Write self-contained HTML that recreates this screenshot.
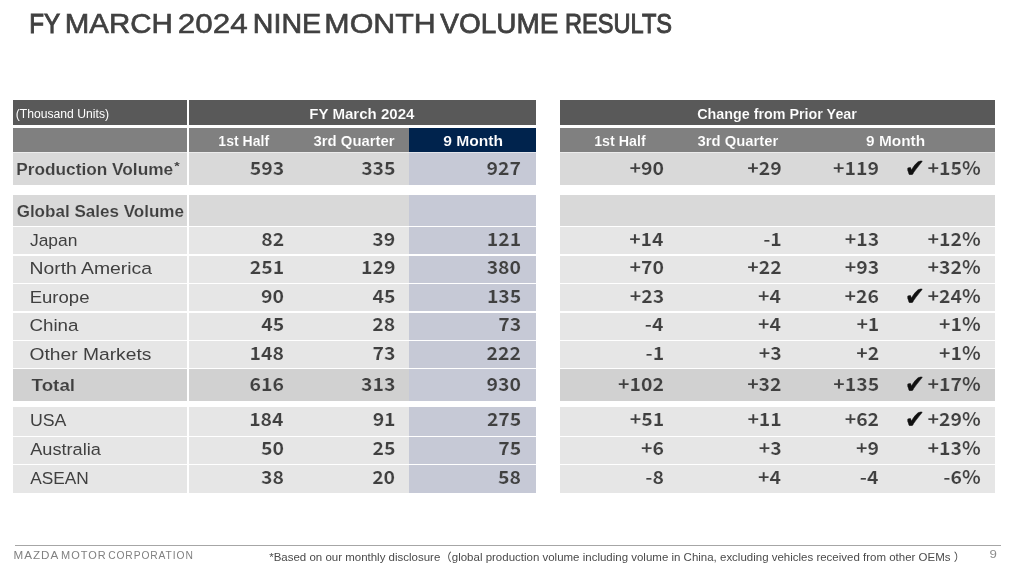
<!DOCTYPE html>
<html lang="en"><head><meta charset="utf-8"><title>FY March 2024 Nine Month Volume Results</title>
<style>
html,body{margin:0;padding:0;background:#fff}
body{width:1024px;height:568px;position:relative;overflow:hidden;font-family:"Liberation Sans","DejaVu Sans",sans-serif;color:#404040}
.b{position:absolute}
.t{position:absolute;white-space:nowrap;line-height:1;transform-origin:0 0}
</style></head><body>
<div class="b" style="left:13px;top:100px;width:174px;height:24.8px;background:#595959"></div><div class="b" style="left:189px;top:100px;width:347px;height:24.8px;background:#595959"></div><div class="b" style="left:560px;top:100px;width:435px;height:24.8px;background:#595959"></div><div class="b" style="left:13px;top:127.7px;width:174px;height:24.3px;background:#808080"></div><div class="b" style="left:189px;top:127.7px;width:219.75px;height:24.3px;background:#808080"></div><div class="b" style="left:408.75px;top:127.7px;width:127.25px;height:24.3px;background:#00234d"></div><div class="b" style="left:560px;top:127.7px;width:435px;height:24.3px;background:#808080"></div><div class="b" style="left:13px;top:152px;width:174px;height:1.3px;background:#ececec"></div><div class="b" style="left:189px;top:152px;width:219.75px;height:1.3px;background:#ececec"></div><div class="b" style="left:408.75px;top:152px;width:127.25px;height:1.3px;background:#e2e4ea"></div><div class="b" style="left:560px;top:152px;width:435px;height:1.3px;background:#ececec"></div>
<div class="b" style="left:13px;top:153.3px;width:174px;height:31.5px;background:#d9d9d9"></div><div class="b" style="left:189px;top:153.3px;width:219.75px;height:31.5px;background:#d9d9d9"></div><div class="b" style="left:408.75px;top:153.3px;width:127.25px;height:31.5px;background:#c6c9d6"></div><div class="b" style="left:560px;top:153.3px;width:435px;height:31.5px;background:#d9d9d9"></div>
<div class="b" style="left:13px;top:195px;width:174px;height:30.8px;background:#d9d9d9"></div><div class="b" style="left:189px;top:195px;width:219.75px;height:30.8px;background:#d9d9d9"></div><div class="b" style="left:408.75px;top:195px;width:127.25px;height:30.8px;background:#c6c9d6"></div><div class="b" style="left:560px;top:195px;width:435px;height:30.8px;background:#d9d9d9"></div>
<div class="b" style="left:13px;top:227.3px;width:174px;height:26.95px;background:#e6e6e6"></div><div class="b" style="left:189px;top:227.3px;width:219.75px;height:26.95px;background:#e6e6e6"></div><div class="b" style="left:408.75px;top:227.3px;width:127.25px;height:26.95px;background:#c6c9d6"></div><div class="b" style="left:560px;top:227.3px;width:435px;height:26.95px;background:#e6e6e6"></div>
<div class="b" style="left:13px;top:255.75px;width:174px;height:26.9px;background:#e6e6e6"></div><div class="b" style="left:189px;top:255.75px;width:219.75px;height:26.9px;background:#e6e6e6"></div><div class="b" style="left:408.75px;top:255.75px;width:127.25px;height:26.9px;background:#c6c9d6"></div><div class="b" style="left:560px;top:255.75px;width:435px;height:26.9px;background:#e6e6e6"></div>
<div class="b" style="left:13px;top:284.15px;width:174px;height:26.95px;background:#e6e6e6"></div><div class="b" style="left:189px;top:284.15px;width:219.75px;height:26.95px;background:#e6e6e6"></div><div class="b" style="left:408.75px;top:284.15px;width:127.25px;height:26.95px;background:#c6c9d6"></div><div class="b" style="left:560px;top:284.15px;width:435px;height:26.95px;background:#e6e6e6"></div>
<div class="b" style="left:13px;top:312.6px;width:174px;height:26.95px;background:#e6e6e6"></div><div class="b" style="left:189px;top:312.6px;width:219.75px;height:26.95px;background:#e6e6e6"></div><div class="b" style="left:408.75px;top:312.6px;width:127.25px;height:26.95px;background:#c6c9d6"></div><div class="b" style="left:560px;top:312.6px;width:435px;height:26.95px;background:#e6e6e6"></div>
<div class="b" style="left:13px;top:341.05px;width:174px;height:26.95px;background:#e6e6e6"></div><div class="b" style="left:189px;top:341.05px;width:219.75px;height:26.95px;background:#e6e6e6"></div><div class="b" style="left:408.75px;top:341.05px;width:127.25px;height:26.95px;background:#c6c9d6"></div><div class="b" style="left:560px;top:341.05px;width:435px;height:26.95px;background:#e6e6e6"></div>
<div class="b" style="left:13px;top:369.4px;width:174px;height:31.2px;background:#d1d1d1"></div><div class="b" style="left:189px;top:369.4px;width:219.75px;height:31.2px;background:#d1d1d1"></div><div class="b" style="left:408.75px;top:369.4px;width:127.25px;height:31.2px;background:#c6c9d6"></div><div class="b" style="left:560px;top:369.4px;width:435px;height:31.2px;background:#d1d1d1"></div>
<div class="b" style="left:13px;top:407px;width:174px;height:28.5px;background:#e6e6e6"></div><div class="b" style="left:189px;top:407px;width:219.75px;height:28.5px;background:#e6e6e6"></div><div class="b" style="left:408.75px;top:407px;width:127.25px;height:28.5px;background:#c6c9d6"></div><div class="b" style="left:560px;top:407px;width:435px;height:28.5px;background:#e6e6e6"></div>
<div class="b" style="left:13px;top:437px;width:174px;height:26.9px;background:#e6e6e6"></div><div class="b" style="left:189px;top:437px;width:219.75px;height:26.9px;background:#e6e6e6"></div><div class="b" style="left:408.75px;top:437px;width:127.25px;height:26.9px;background:#c6c9d6"></div><div class="b" style="left:560px;top:437px;width:435px;height:26.9px;background:#e6e6e6"></div>
<div class="b" style="left:13px;top:465.4px;width:174px;height:27.6px;background:#e6e6e6"></div><div class="b" style="left:189px;top:465.4px;width:219.75px;height:27.6px;background:#e6e6e6"></div><div class="b" style="left:408.75px;top:465.4px;width:127.25px;height:27.6px;background:#c6c9d6"></div><div class="b" style="left:560px;top:465.4px;width:435px;height:27.6px;background:#e6e6e6"></div>
<div class="b" style="left:14.5px;top:544.7px;width:986.5px;height:1.3px;background:#a6a6a6"></div>
<span class="t" id="tw_FY" style="left:29px;top:10px;font-size:27.4px;-webkit-text-stroke:1.00px #404040;transform:translate(0.33px,0.00px) scaleX(0.8821);">FY</span>
<span class="t" id="tw_MARCH" style="left:64px;top:10px;font-size:27.4px;-webkit-text-stroke:0.65px #404040;transform:translate(0.72px,0.00px) scaleX(1.0756);">MARCH</span>
<span class="t" id="tw_2024" style="left:177px;top:10px;font-size:27.4px;-webkit-text-stroke:0.53px #404040;transform:translate(0.81px,0.00px) scaleX(1.1475);">2024</span>
<span class="t" id="tw_NINE" style="left:252px;top:10px;font-size:27.4px;-webkit-text-stroke:0.71px #404040;transform:translate(0.82px,0.00px) scaleX(1.0434);">NINE</span>
<span class="t" id="tw_MONTH" style="left:324px;top:10px;font-size:27.4px;-webkit-text-stroke:0.59px #404040;transform:translate(0.34px,0.00px) scaleX(1.1098);">MONTH</span>
<span class="t" id="tw_VOLUME" style="left:440px;top:10px;font-size:27.4px;-webkit-text-stroke:0.76px #404040;transform:translate(0.37px,0.00px) scaleX(1.0199);">VOLUME</span>
<span class="t" id="tw_RESULTS" style="left:565px;top:10px;font-size:27.4px;-webkit-text-stroke:1.00px #404040;transform:translate(0.10px,0.00px) scaleX(0.8605);">RESULTS</span>
<span class="t" id="thu" style="left:15px;top:108px;font-size:12.5px;color:#fff;transform:translate(0.68px,0.00px) scaleX(0.9738);">(Thousand Units)</span>
<span class="t" id="h_fy" style="left:309px;top:107px;font-size:14.2px;font-weight:bold;color:#fff;-webkit-text-stroke:0.12px #595959;transform:translate(0.24px,0.00px) scaleX(1.0613);">FY March 2024</span>
<span class="t" id="h_ch" style="left:697px;top:107px;font-size:14.2px;font-weight:bold;color:#fff;-webkit-text-stroke:0.12px #595959;transform:translate(0.17px,0.00px) scaleX(1.0095);">Change from Prior Year</span>
<span class="t" id="h_l1" style="left:218px;top:134px;font-size:14.4px;font-weight:bold;color:#fff;-webkit-text-stroke:0.12px #808080;transform:translate(0.37px,0.00px) scaleX(0.9767);">1st Half</span>
<span class="t" id="h_l3" style="left:313px;top:134px;font-size:14.4px;font-weight:bold;color:#fff;-webkit-text-stroke:0.12px #808080;transform:translate(0.50px,0.00px) scaleX(1.0350);">3rd Quarter</span>
<span class="t" id="h_l9" style="left:443px;top:134px;font-size:14.4px;font-weight:bold;color:#fff;-webkit-text-stroke:0.12px #00234d;transform:translate(0.31px,0.00px) scaleX(1.0840);">9 Month</span>
<span class="t" id="h_r1" style="left:594px;top:134px;font-size:14.4px;font-weight:bold;color:#fff;-webkit-text-stroke:0.12px #808080;transform:translate(0.15px,0.00px) scaleX(0.9909);">1st Half</span>
<span class="t" id="h_r3" style="left:697px;top:134px;font-size:14.4px;font-weight:bold;color:#fff;-webkit-text-stroke:0.12px #808080;transform:translate(0.50px,0.00px) scaleX(1.0298);">3rd Quarter</span>
<span class="t" id="h_r9" style="left:866px;top:134px;font-size:14.4px;font-weight:bold;color:#fff;-webkit-text-stroke:0.12px #808080;transform:translate(0.08px,0.00px) scaleX(1.0704);">9 Month</span>
<span class="t" id="l_prod" style="left:16px;top:161px;font-size:17.1px;font-weight:bold;-webkit-text-stroke:0.15px #d9d9d9;transform:translate(0.25px,0.00px) scaleX(1.0093);">Production Volume</span>
<span class="t" id="l_ast" style="left:174px;top:161px;font-size:11px;font-weight:bold;transform:translate(0.17px,0.00px) scaleX(1.2581);">*</span>
<span class="t" id="n_prod0" style="left:249px;top:158px;font-size:18.2px;font-family:'Noto Sans CJK JP','Liberation Sans',sans-serif;font-weight:bold;-webkit-text-stroke:0.15px #d9d9d9;transform:translate(0.73px,0.00px) scaleX(1.0700);">593</span>
<span class="t" id="n_prod1" style="left:361px;top:158px;font-size:18.2px;font-family:'Noto Sans CJK JP','Liberation Sans',sans-serif;font-weight:bold;-webkit-text-stroke:0.15px #d9d9d9;transform:translate(0.13px,0.00px) scaleX(1.0700);">335</span>
<span class="t" id="n_prod2" style="left:486px;top:158px;font-size:18.2px;font-family:'Noto Sans CJK JP','Liberation Sans',sans-serif;font-weight:bold;-webkit-text-stroke:0.15px #c6c9d6;transform:translate(0.49px,0.00px) scaleX(1.0700);">927</span>
<span class="t" id="n_prod3" style="left:629px;top:158px;font-size:18.2px;font-family:'Noto Sans CJK JP','Liberation Sans',sans-serif;font-weight:bold;-webkit-text-stroke:0.15px #d9d9d9;transform:translate(0.45px,0.00px) scaleX(1.0700);">+90</span>
<span class="t" id="n_prod4" style="left:747px;top:158px;font-size:18.2px;font-family:'Noto Sans CJK JP','Liberation Sans',sans-serif;font-weight:bold;-webkit-text-stroke:0.15px #d9d9d9;transform:translate(0.21px,0.00px) scaleX(1.0700);">+29</span>
<span class="t" id="n_prod5" style="left:833px;top:158px;font-size:18.2px;font-family:'Noto Sans CJK JP','Liberation Sans',sans-serif;font-weight:bold;-webkit-text-stroke:0.15px #d9d9d9;transform:translate(0.04px,0.00px) scaleX(1.0700);">+119</span>
<span class="t" id="ck_prod" style="left:904px;top:156px;font-size:25.7px;font-family:'DejaVu Sans',sans-serif;color:#111;-webkit-text-stroke:0.35px #111;transform:translate(0.80px,0.00px) scaleX(0.9422);">✔</span>
<span class="t" id="n_prod6" style="left:927px;top:158px;font-size:18.2px;font-family:'Noto Sans CJK JP','Liberation Sans',sans-serif;font-weight:bold;-webkit-text-stroke:0.15px #d9d9d9;transform:translate(0.48px,0.00px) scaleX(1.0700);">+15%</span>
<span class="t" id="l_glob" style="left:16px;top:203px;font-size:17.1px;font-weight:bold;-webkit-text-stroke:0.15px #d9d9d9;transform:translate(0.63px,0.00px) scaleX(0.9971);">Global Sales Volume</span>
<span class="t" id="l_jp" style="left:30px;top:232px;font-size:17.4px;transform:translate(0.00px,0.00px) scaleX(1.0002);">Japan</span>
<span class="t" id="n_jp0" style="left:261px;top:229px;font-size:18.2px;font-family:'Noto Sans CJK JP','Liberation Sans',sans-serif;font-weight:bold;-webkit-text-stroke:0.15px #e6e6e6;transform:translate(0.15px,0.00px) scaleX(1.0700);">82</span>
<span class="t" id="n_jp1" style="left:372px;top:229px;font-size:18.2px;font-family:'Noto Sans CJK JP','Liberation Sans',sans-serif;font-weight:bold;-webkit-text-stroke:0.15px #e6e6e6;transform:translate(0.28px,0.00px) scaleX(1.0700);">39</span>
<span class="t" id="n_jp2" style="left:486px;top:229px;font-size:18.2px;font-family:'Noto Sans CJK JP','Liberation Sans',sans-serif;font-weight:bold;-webkit-text-stroke:0.15px #c6c9d6;transform:translate(0.73px,0.00px) scaleX(1.0700);">121</span>
<span class="t" id="n_jp3" style="left:629px;top:229px;font-size:18.2px;font-family:'Noto Sans CJK JP','Liberation Sans',sans-serif;font-weight:bold;-webkit-text-stroke:0.15px #e6e6e6;transform:translate(0.14px,0.00px) scaleX(1.0700);">+14</span>
<span class="t" id="n_jp4" style="left:763px;top:229px;font-size:18.2px;font-family:'Noto Sans CJK JP','Liberation Sans',sans-serif;font-weight:bold;-webkit-text-stroke:0.15px #e6e6e6;transform:translate(0.15px,0.00px) scaleX(1.0700);">-1</span>
<span class="t" id="n_jp5" style="left:844px;top:229px;font-size:18.2px;font-family:'Noto Sans CJK JP','Liberation Sans',sans-serif;font-weight:bold;-webkit-text-stroke:0.15px #e6e6e6;transform:translate(0.74px,0.00px) scaleX(1.0700);">+13</span>
<span class="t" id="n_jp6" style="left:927px;top:229px;font-size:18.2px;font-family:'Noto Sans CJK JP','Liberation Sans',sans-serif;font-weight:bold;-webkit-text-stroke:0.15px #e6e6e6;transform:translate(0.50px,0.00px) scaleX(1.0700);">+12%</span>
<span class="t" id="l_na" style="left:29px;top:260px;font-size:17.4px;transform:translate(0.51px,0.00px) scaleX(1.1120);">North America</span>
<span class="t" id="n_na0" style="left:249px;top:257px;font-size:18.2px;font-family:'Noto Sans CJK JP','Liberation Sans',sans-serif;font-weight:bold;-webkit-text-stroke:0.15px #e6e6e6;transform:translate(0.82px,0.00px) scaleX(1.0700);">251</span>
<span class="t" id="n_na1" style="left:360px;top:257px;font-size:18.2px;font-family:'Noto Sans CJK JP','Liberation Sans',sans-serif;font-weight:bold;-webkit-text-stroke:0.15px #e6e6e6;transform:translate(0.97px,0.00px) scaleX(1.0700);">129</span>
<span class="t" id="n_na2" style="left:486px;top:257px;font-size:18.2px;font-family:'Noto Sans CJK JP','Liberation Sans',sans-serif;font-weight:bold;-webkit-text-stroke:0.15px #c6c9d6;transform:translate(0.64px,0.00px) scaleX(1.0700);">380</span>
<span class="t" id="n_na3" style="left:629px;top:257px;font-size:18.2px;font-family:'Noto Sans CJK JP','Liberation Sans',sans-serif;font-weight:bold;-webkit-text-stroke:0.15px #e6e6e6;transform:translate(0.47px,0.00px) scaleX(1.0700);">+70</span>
<span class="t" id="n_na4" style="left:747px;top:257px;font-size:18.2px;font-family:'Noto Sans CJK JP','Liberation Sans',sans-serif;font-weight:bold;-webkit-text-stroke:0.15px #e6e6e6;transform:translate(0.17px,0.00px) scaleX(1.0700);">+22</span>
<span class="t" id="n_na5" style="left:844px;top:257px;font-size:18.2px;font-family:'Noto Sans CJK JP','Liberation Sans',sans-serif;font-weight:bold;-webkit-text-stroke:0.15px #e6e6e6;transform:translate(0.74px,0.00px) scaleX(1.0700);">+93</span>
<span class="t" id="n_na6" style="left:927px;top:257px;font-size:18.2px;font-family:'Noto Sans CJK JP','Liberation Sans',sans-serif;font-weight:bold;-webkit-text-stroke:0.15px #e6e6e6;transform:translate(0.50px,0.00px) scaleX(1.0700);">+32%</span>
<span class="t" id="l_eu" style="left:29px;top:289px;font-size:17.4px;transform:translate(0.68px,0.00px) scaleX(1.0663);">Europe</span>
<span class="t" id="n_eu0" style="left:261px;top:286px;font-size:18.2px;font-family:'Noto Sans CJK JP','Liberation Sans',sans-serif;font-weight:bold;-webkit-text-stroke:0.15px #e6e6e6;transform:translate(0.00px,0.00px) scaleX(1.0700);">90</span>
<span class="t" id="n_eu1" style="left:372px;top:286px;font-size:18.2px;font-family:'Noto Sans CJK JP','Liberation Sans',sans-serif;font-weight:bold;-webkit-text-stroke:0.15px #e6e6e6;transform:translate(0.41px,0.00px) scaleX(1.0700);">45</span>
<span class="t" id="n_eu2" style="left:486px;top:286px;font-size:18.2px;font-family:'Noto Sans CJK JP','Liberation Sans',sans-serif;font-weight:bold;-webkit-text-stroke:0.15px #c6c9d6;transform:translate(0.89px,0.00px) scaleX(1.0700);">135</span>
<span class="t" id="n_eu3" style="left:629px;top:286px;font-size:18.2px;font-family:'Noto Sans CJK JP','Liberation Sans',sans-serif;font-weight:bold;-webkit-text-stroke:0.15px #e6e6e6;transform:translate(0.74px,0.00px) scaleX(1.0700);">+23</span>
<span class="t" id="n_eu4" style="left:758px;top:286px;font-size:18.2px;font-family:'Noto Sans CJK JP','Liberation Sans',sans-serif;font-weight:bold;-webkit-text-stroke:0.15px #e6e6e6;transform:translate(0.10px,0.00px) scaleX(1.0700);">+4</span>
<span class="t" id="n_eu5" style="left:844px;top:286px;font-size:18.2px;font-family:'Noto Sans CJK JP','Liberation Sans',sans-serif;font-weight:bold;-webkit-text-stroke:0.15px #e6e6e6;transform:translate(0.50px,0.00px) scaleX(1.0700);">+26</span>
<span class="t" id="ck_eu" style="left:904px;top:284px;font-size:25.7px;font-family:'DejaVu Sans',sans-serif;color:#111;-webkit-text-stroke:0.35px #111;transform:translate(0.76px,0.00px) scaleX(0.9400);">✔</span>
<span class="t" id="n_eu6" style="left:927px;top:286px;font-size:18.2px;font-family:'Noto Sans CJK JP','Liberation Sans',sans-serif;font-weight:bold;-webkit-text-stroke:0.15px #e6e6e6;transform:translate(0.50px,0.00px) scaleX(1.0700);">+24%</span>
<span class="t" id="l_cn" style="left:29px;top:317px;font-size:17.4px;transform:translate(0.44px,0.00px) scaleX(1.0778);">China</span>
<span class="t" id="n_cn0" style="left:261px;top:314px;font-size:18.2px;font-family:'Noto Sans CJK JP','Liberation Sans',sans-serif;font-weight:bold;-webkit-text-stroke:0.15px #e6e6e6;transform:translate(0.25px,0.00px) scaleX(1.0700);">45</span>
<span class="t" id="n_cn1" style="left:372px;top:314px;font-size:18.2px;font-family:'Noto Sans CJK JP','Liberation Sans',sans-serif;font-weight:bold;-webkit-text-stroke:0.15px #e6e6e6;transform:translate(0.27px,0.00px) scaleX(1.0700);">28</span>
<span class="t" id="n_cn2" style="left:498px;top:314px;font-size:18.2px;font-family:'Noto Sans CJK JP','Liberation Sans',sans-serif;font-weight:bold;-webkit-text-stroke:0.15px #c6c9d6;transform:translate(0.25px,0.00px) scaleX(1.0700);">73</span>
<span class="t" id="n_cn3" style="left:644px;top:314px;font-size:18.2px;font-family:'Noto Sans CJK JP','Liberation Sans',sans-serif;font-weight:bold;-webkit-text-stroke:0.15px #e6e6e6;transform:translate(0.81px,0.00px) scaleX(1.0700);">-4</span>
<span class="t" id="n_cn4" style="left:758px;top:314px;font-size:18.2px;font-family:'Noto Sans CJK JP','Liberation Sans',sans-serif;font-weight:bold;-webkit-text-stroke:0.15px #e6e6e6;transform:translate(0.10px,0.00px) scaleX(1.0700);">+4</span>
<span class="t" id="n_cn5" style="left:856px;top:314px;font-size:18.2px;font-family:'Noto Sans CJK JP','Liberation Sans',sans-serif;font-weight:bold;-webkit-text-stroke:0.15px #e6e6e6;transform:translate(0.38px,0.00px) scaleX(1.0700);">+1</span>
<span class="t" id="n_cn6" style="left:939px;top:314px;font-size:18.2px;font-family:'Noto Sans CJK JP','Liberation Sans',sans-serif;font-weight:bold;-webkit-text-stroke:0.15px #e6e6e6;transform:translate(0.00px,0.00px) scaleX(1.0700);">+1%</span>
<span class="t" id="l_ot" style="left:29px;top:346px;font-size:17.4px;transform:translate(0.56px,0.00px) scaleX(1.1053);">Other Markets</span>
<span class="t" id="n_ot0" style="left:249px;top:343px;font-size:18.2px;font-family:'Noto Sans CJK JP','Liberation Sans',sans-serif;font-weight:bold;-webkit-text-stroke:0.15px #e6e6e6;transform:translate(0.54px,0.00px) scaleX(1.0700);">148</span>
<span class="t" id="n_ot1" style="left:372px;top:343px;font-size:18.2px;font-family:'Noto Sans CJK JP','Liberation Sans',sans-serif;font-weight:bold;-webkit-text-stroke:0.15px #e6e6e6;transform:translate(0.55px,0.00px) scaleX(1.0700);">73</span>
<span class="t" id="n_ot2" style="left:486px;top:343px;font-size:18.2px;font-family:'Noto Sans CJK JP','Liberation Sans',sans-serif;font-weight:bold;-webkit-text-stroke:0.15px #c6c9d6;transform:translate(0.57px,0.00px) scaleX(1.0700);">222</span>
<span class="t" id="n_ot3" style="left:645px;top:343px;font-size:18.2px;font-family:'Noto Sans CJK JP','Liberation Sans',sans-serif;font-weight:bold;-webkit-text-stroke:0.15px #e6e6e6;transform:translate(0.60px,0.00px) scaleX(1.0700);">-1</span>
<span class="t" id="n_ot4" style="left:758px;top:343px;font-size:18.2px;font-family:'Noto Sans CJK JP','Liberation Sans',sans-serif;font-weight:bold;-webkit-text-stroke:0.15px #e6e6e6;transform:translate(0.87px,0.00px) scaleX(1.0700);">+3</span>
<span class="t" id="n_ot5" style="left:856px;top:343px;font-size:18.2px;font-family:'Noto Sans CJK JP','Liberation Sans',sans-serif;font-weight:bold;-webkit-text-stroke:0.15px #e6e6e6;transform:translate(0.15px,0.00px) scaleX(1.0700);">+2</span>
<span class="t" id="n_ot6" style="left:939px;top:343px;font-size:18.2px;font-family:'Noto Sans CJK JP','Liberation Sans',sans-serif;font-weight:bold;-webkit-text-stroke:0.15px #e6e6e6;transform:translate(0.00px,0.00px) scaleX(1.0700);">+1%</span>
<span class="t" id="l_tot" style="left:31px;top:377px;font-size:17.1px;font-weight:bold;-webkit-text-stroke:0.15px #d1d1d1;transform:translate(0.53px,0.00px) scaleX(1.1008);">Total</span>
<span class="t" id="n_tot0" style="left:249px;top:374px;font-size:18.2px;font-family:'Noto Sans CJK JP','Liberation Sans',sans-serif;font-weight:bold;-webkit-text-stroke:0.15px #d1d1d1;transform:translate(0.49px,0.00px) scaleX(1.0700);">616</span>
<span class="t" id="n_tot1" style="left:360px;top:374px;font-size:18.2px;font-family:'Noto Sans CJK JP','Liberation Sans',sans-serif;font-weight:bold;-webkit-text-stroke:0.15px #d1d1d1;transform:translate(0.95px,0.00px) scaleX(1.0700);">313</span>
<span class="t" id="n_tot2" style="left:486px;top:374px;font-size:18.2px;font-family:'Noto Sans CJK JP','Liberation Sans',sans-serif;font-weight:bold;-webkit-text-stroke:0.15px #c6c9d6;transform:translate(0.44px,0.00px) scaleX(1.0700);">930</span>
<span class="t" id="n_tot3" style="left:618px;top:374px;font-size:18.2px;font-family:'Noto Sans CJK JP','Liberation Sans',sans-serif;font-weight:bold;-webkit-text-stroke:0.15px #d1d1d1;transform:translate(0.08px,0.00px) scaleX(1.0700);">+102</span>
<span class="t" id="n_tot4" style="left:747px;top:374px;font-size:18.2px;font-family:'Noto Sans CJK JP','Liberation Sans',sans-serif;font-weight:bold;-webkit-text-stroke:0.15px #d1d1d1;transform:translate(0.14px,0.00px) scaleX(1.0700);">+32</span>
<span class="t" id="n_tot5" style="left:833px;top:374px;font-size:18.2px;font-family:'Noto Sans CJK JP','Liberation Sans',sans-serif;font-weight:bold;-webkit-text-stroke:0.15px #d1d1d1;transform:translate(0.23px,0.00px) scaleX(1.0700);">+135</span>
<span class="t" id="ck_tot" style="left:904px;top:372px;font-size:25.7px;font-family:'DejaVu Sans',sans-serif;color:#111;-webkit-text-stroke:0.35px #111;transform:translate(0.76px,0.00px) scaleX(0.9444);">✔</span>
<span class="t" id="n_tot6" style="left:927px;top:374px;font-size:18.2px;font-family:'Noto Sans CJK JP','Liberation Sans',sans-serif;font-weight:bold;-webkit-text-stroke:0.15px #d1d1d1;transform:translate(0.49px,0.00px) scaleX(1.0700);">+17%</span>
<span class="t" id="l_us" style="left:29px;top:412px;font-size:17.4px;transform:translate(0.88px,0.00px) scaleX(1.0196);">USA</span>
<span class="t" id="n_us0" style="left:249px;top:409px;font-size:18.2px;font-family:'Noto Sans CJK JP','Liberation Sans',sans-serif;font-weight:bold;-webkit-text-stroke:0.15px #e6e6e6;transform:translate(0.14px,0.00px) scaleX(1.0700);">184</span>
<span class="t" id="n_us1" style="left:372px;top:409px;font-size:18.2px;font-family:'Noto Sans CJK JP','Liberation Sans',sans-serif;font-weight:bold;-webkit-text-stroke:0.15px #e6e6e6;transform:translate(0.63px,0.00px) scaleX(1.0700);">91</span>
<span class="t" id="n_us2" style="left:486px;top:409px;font-size:18.2px;font-family:'Noto Sans CJK JP','Liberation Sans',sans-serif;font-weight:bold;-webkit-text-stroke:0.15px #c6c9d6;transform:translate(0.89px,0.00px) scaleX(1.0700);">275</span>
<span class="t" id="n_us3" style="left:629px;top:409px;font-size:18.2px;font-family:'Noto Sans CJK JP','Liberation Sans',sans-serif;font-weight:bold;-webkit-text-stroke:0.15px #e6e6e6;transform:translate(0.82px,0.00px) scaleX(1.0700);">+51</span>
<span class="t" id="n_us4" style="left:747px;top:409px;font-size:18.2px;font-family:'Noto Sans CJK JP','Liberation Sans',sans-serif;font-weight:bold;-webkit-text-stroke:0.15px #e6e6e6;transform:translate(0.38px,0.00px) scaleX(1.0700);">+11</span>
<span class="t" id="n_us5" style="left:844px;top:409px;font-size:18.2px;font-family:'Noto Sans CJK JP','Liberation Sans',sans-serif;font-weight:bold;-webkit-text-stroke:0.15px #e6e6e6;transform:translate(0.66px,0.00px) scaleX(1.0700);">+62</span>
<span class="t" id="ck_us" style="left:904px;top:407px;font-size:25.7px;font-family:'DejaVu Sans',sans-serif;color:#111;-webkit-text-stroke:0.35px #111;transform:translate(0.72px,0.00px) scaleX(0.9406);">✔</span>
<span class="t" id="n_us6" style="left:927px;top:409px;font-size:18.2px;font-family:'Noto Sans CJK JP','Liberation Sans',sans-serif;font-weight:bold;-webkit-text-stroke:0.15px #e6e6e6;transform:translate(0.50px,0.00px) scaleX(1.0700);">+29%</span>
<span class="t" id="l_au" style="left:30px;top:441px;font-size:17.4px;transform:translate(0.19px,0.00px) scaleX(1.0449);">Australia</span>
<span class="t" id="n_au0" style="left:261px;top:438px;font-size:18.2px;font-family:'Noto Sans CJK JP','Liberation Sans',sans-serif;font-weight:bold;-webkit-text-stroke:0.15px #e6e6e6;transform:translate(0.00px,0.00px) scaleX(1.0700);">50</span>
<span class="t" id="n_au1" style="left:372px;top:438px;font-size:18.2px;font-family:'Noto Sans CJK JP','Liberation Sans',sans-serif;font-weight:bold;-webkit-text-stroke:0.15px #e6e6e6;transform:translate(0.41px,0.00px) scaleX(1.0700);">25</span>
<span class="t" id="n_au2" style="left:498px;top:438px;font-size:18.2px;font-family:'Noto Sans CJK JP','Liberation Sans',sans-serif;font-weight:bold;-webkit-text-stroke:0.15px #c6c9d6;transform:translate(0.20px,0.00px) scaleX(1.0700);">75</span>
<span class="t" id="n_au3" style="left:641px;top:438px;font-size:18.2px;font-family:'Noto Sans CJK JP','Liberation Sans',sans-serif;font-weight:bold;-webkit-text-stroke:0.15px #e6e6e6;transform:translate(0.00px,0.00px) scaleX(1.0700);">+6</span>
<span class="t" id="n_au4" style="left:758px;top:438px;font-size:18.2px;font-family:'Noto Sans CJK JP','Liberation Sans',sans-serif;font-weight:bold;-webkit-text-stroke:0.15px #e6e6e6;transform:translate(0.87px,0.00px) scaleX(1.0700);">+3</span>
<span class="t" id="n_au5" style="left:856px;top:438px;font-size:18.2px;font-family:'Noto Sans CJK JP','Liberation Sans',sans-serif;font-weight:bold;-webkit-text-stroke:0.15px #e6e6e6;transform:translate(0.09px,0.00px) scaleX(1.0700);">+9</span>
<span class="t" id="n_au6" style="left:927px;top:438px;font-size:18.2px;font-family:'Noto Sans CJK JP','Liberation Sans',sans-serif;font-weight:bold;-webkit-text-stroke:0.15px #e6e6e6;transform:translate(0.50px,0.00px) scaleX(1.0700);">+13%</span>
<span class="t" id="l_as" style="left:30px;top:470px;font-size:17.4px;transform:translate(0.23px,0.00px) scaleX(0.9935);">ASEAN</span>
<span class="t" id="n_as0" style="left:261px;top:467px;font-size:18.2px;font-family:'Noto Sans CJK JP','Liberation Sans',sans-serif;font-weight:bold;-webkit-text-stroke:0.15px #e6e6e6;transform:translate(0.00px,0.00px) scaleX(1.0700);">38</span>
<span class="t" id="n_as1" style="left:372px;top:467px;font-size:18.2px;font-family:'Noto Sans CJK JP','Liberation Sans',sans-serif;font-weight:bold;-webkit-text-stroke:0.15px #e6e6e6;transform:translate(0.13px,0.00px) scaleX(1.0700);">20</span>
<span class="t" id="n_as2" style="left:498px;top:467px;font-size:18.2px;font-family:'Noto Sans CJK JP','Liberation Sans',sans-serif;font-weight:bold;-webkit-text-stroke:0.15px #c6c9d6;transform:translate(0.00px,0.00px) scaleX(1.0700);">58</span>
<span class="t" id="n_as3" style="left:645px;top:467px;font-size:18.2px;font-family:'Noto Sans CJK JP','Liberation Sans',sans-serif;font-weight:bold;-webkit-text-stroke:0.15px #e6e6e6;transform:translate(0.32px,0.00px) scaleX(1.0700);">-8</span>
<span class="t" id="n_as4" style="left:758px;top:467px;font-size:18.2px;font-family:'Noto Sans CJK JP','Liberation Sans',sans-serif;font-weight:bold;-webkit-text-stroke:0.15px #e6e6e6;transform:translate(0.10px,0.00px) scaleX(1.0700);">+4</span>
<span class="t" id="n_as5" style="left:859px;top:467px;font-size:18.2px;font-family:'Noto Sans CJK JP','Liberation Sans',sans-serif;font-weight:bold;-webkit-text-stroke:0.15px #e6e6e6;transform:translate(0.81px,0.00px) scaleX(1.0700);">-4</span>
<span class="t" id="n_as6" style="left:943px;top:467px;font-size:18.2px;font-family:'Noto Sans CJK JP','Liberation Sans',sans-serif;font-weight:bold;-webkit-text-stroke:0.15px #e6e6e6;transform:translate(0.28px,0.00px) scaleX(1.0700);">-6%</span>
<span id="tw_corp"><span class="t" id="f_corp0" style="left:13px;top:551px;font-size:10.4px;color:#808080;letter-spacing:0.9px;transform:translate(0.43px,0.00px) scaleX(1.1212);">MAZDA</span><span class="t" id="f_corp1" style="left:61px;top:551px;font-size:10.4px;color:#808080;letter-spacing:0.9px;transform:translate(0.12px,0.00px) scaleX(1.0587);">MOTOR</span><span class="t" id="f_corp2" style="left:108px;top:551px;font-size:10.4px;color:#808080;letter-spacing:0.9px;transform:translate(0.15px,0.00px) scaleX(0.9892);">CORPORATION</span></span>
<span class="t" id="f_note" style="left:269px;top:552px;font-size:11px;font-family:'Liberation Sans','Noto Sans CJK JP',sans-serif;color:#4a4a4a;transform:translate(0.18px,0.00px) scaleX(1.0443);">*Based on our monthly disclosure（global production volume including volume in China, excluding vehicles received from other OEMs ）</span>
<span class="t" id="f_pg" style="left:989px;top:549px;font-size:10.7px;color:#8c8c8c;transform:translate(0.40px,0.00px) scaleX(1.2413);">9</span>
</body></html>
